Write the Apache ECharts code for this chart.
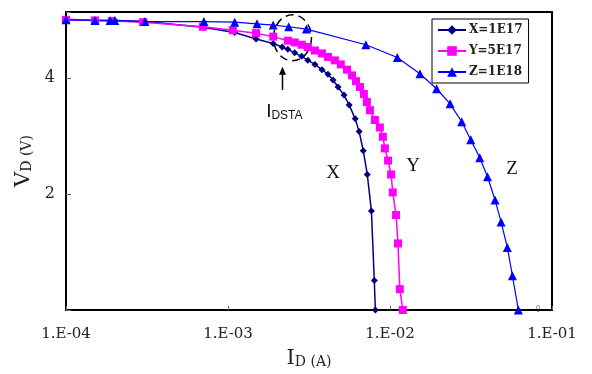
<!DOCTYPE html>
<html>
<head>
<meta charset="utf-8">
<script src="https://cdn.jsdelivr.net/npm/echarts@6/dist/echarts.min.js"></script>
<style>
  html, body { margin: 0; padding: 0; background: #fff; }
  #chart { width: 592px; height: 374px; }
</style>
</head>
<body>
<div id="chart"></div>
<script>
const seriesNames = ["X=1E17", "Y=5E17", "Z=1E18"];
const xTickLabels = ["1.E-04", "1.E-03", "1.E-02", "1.E-01"];
const yTickLabels = ["2", "4"];

// I_D (A) and V_D (V)
const idX = [1.0e-4, 1.51e-4, 1.92e-4, 2.0e-4, 3.07e-4, 7.0e-4, 1.1e-3, 1.49e-3, 1.9e-3, 2.16e-3, 2.34e-3, 2.58e-3, 2.85e-3, 3.11e-3, 3.44e-3, 3.8e-3, 4.14e-3, 4.45e-3, 4.78e-3, 5.2e-3, 5.6e-3, 6.1e-3, 6.45e-3, 6.84e-3, 7.24e-3, 7.68e-3, 8.0e-3, 8.12e-3];
const vdX = [5.02, 5.0, 5.0, 5.0, 4.98, 4.88, 4.79, 4.68, 4.6, 4.54, 4.5, 4.44, 4.38, 4.31, 4.24, 4.15, 4.07, 3.97, 3.85, 3.71, 3.54, 3.3, 3.08, 2.75, 2.34, 1.71, 0.51, 0.0];

const idY = [1.0e-4, 1.51e-4, 1.92e-4, 2.99e-4, 7.0e-4, 1.07e-3, 1.49e-3, 1.9e-3, 2.34e-3, 2.58e-3, 2.85e-3, 3.11e-3, 3.44e-3, 3.8e-3, 4.14e-3, 4.57e-3, 4.97e-3, 5.43e-3, 5.83e-3, 6.17e-3, 6.53e-3, 6.9e-3, 7.2e-3, 7.52e-3, 8.07e-3, 8.66e-3, 9.04e-3, 9.3e-3, 9.73e-3, 1.016e-2, 1.04e-2, 1.09e-2, 1.12e-2, 1.15e-2, 1.2e-2];
const vdY = [5.01, 5.0, 4.99, 4.97, 4.89, 4.83, 4.78, 4.72, 4.65, 4.62, 4.58, 4.54, 4.48, 4.43, 4.37, 4.31, 4.24, 4.15, 4.05, 3.95, 3.85, 3.73, 3.59, 3.45, 3.28, 3.15, 2.99, 2.79, 2.58, 2.34, 2.03, 1.64, 1.15, 0.36, 0.0];

const idZ = [1.0e-4, 1.51e-4, 1.87e-4, 2.0e-4, 3.07e-4, 7.1e-4, 1.1e-3, 1.51e-3, 1.9e-3, 2.37e-3, 3.05e-3, 7.1e-3, 1.11e-2, 1.53e-2, 1.94e-2, 2.35e-2, 2.77e-2, 3.15e-2, 3.58e-2, 4.0e-2, 4.45e-2, 4.85e-2, 5.3e-2, 5.7e-2, 6.2e-2];
const vdZ = [5.01, 5.0, 5.0, 5.0, 4.98, 4.98, 4.97, 4.94, 4.92, 4.89, 4.85, 4.58, 4.36, 4.08, 3.82, 3.56, 3.25, 2.94, 2.63, 2.3, 1.9, 1.52, 1.08, 0.59, 0.0];

const pairs = (xs, ys) => xs.map((x, i) => [x, ys[i]]);

const serif = "DejaVu Serif";
const textColor = "#222";

const chart = echarts.init(document.getElementById("chart"));

const option = {
  animation: false,
  grid: {
    left: 66,
    right: 40,
    top: 12,
    bottom: 61,
    show: true,
    borderColor: "#000",
    borderWidth: 2,
  },
  legend: {
    orient: "vertical",
    left: 432,
    top: 19,
    padding: [5, 6, 5, 5],
    itemGap: 9,
    itemWidth: 28,
    itemHeight: 12,
    borderColor: "#000",
    borderWidth: 1,
    backgroundColor: "#fff",
    textStyle: {
      fontFamily: serif,
      fontWeight: "bold",
      fontSize: 12,
      color: textColor,
      padding: [0, 0, 0, -2],
    },
    data: seriesNames,
  },
  xAxis: {
    type: "log",
    logBase: 10,
    min: 1e-4,
    max: 1e-1,
    splitLine: { show: false },
    axisLine: { lineStyle: { color: "#000", width: 2 } },
    axisTick: { inside: true, length: 4, lineStyle: { color: "#666" } },
    minorTick: { show: false },
    axisLabel: {
      margin: 17,
      fontFamily: serif,
      fontSize: 15,
      color: textColor,
      formatter: (v) => xTickLabels[Math.round(Math.log10(v)) + 4] || "",
    },
    name: "{a|I}{b|D (A)}",
    nameLocation: "middle",
    nameGap: 38,
    nameTextStyle: {
      rich: {
        a: { fontFamily: serif, fontSize: 21, color: textColor, verticalAlign: "bottom" },
        b: { fontFamily: serif, fontSize: 14, color: textColor, verticalAlign: "bottom" },
      },
    },
  },
  yAxis: {
    type: "value",
    min: 0,
    max: 5.145,
    interval: 2,
    splitLine: { show: false },
    axisLine: { show: true, lineStyle: { color: "#000", width: 2 } },
    axisTick: { show: true, inside: true, length: 5, lineStyle: { color: "#666" } },
    axisLabel: {
      margin: 11,
      fontFamily: serif,
      fontSize: 16,
      color: textColor,
      formatter: (v) => (yTickLabels.includes(String(v)) ? String(v) : ""),
    },
    name: "{a|V}{b|D (V)}",
    nameLocation: "middle",
    nameRotate: 90,
    nameGap: 25,
    nameTextStyle: {
      rich: {
        a: { fontFamily: serif, fontSize: 21, color: textColor, verticalAlign: "bottom" },
        b: { fontFamily: serif, fontSize: 14, color: textColor, verticalAlign: "bottom" },
      },
    },
  },
  series: [
    {
      name: seriesNames[0],
      type: "line",
      symbol: "diamond",
      symbolSize: 7,
      color: "#000080",
      lineStyle: { width: 1.5 },
      data: pairs(idX, vdX),
    },
    {
      name: seriesNames[1],
      type: "line",
      symbol: "rect",
      symbolSize: 8,
      color: "#ff00ff",
      lineStyle: { width: 1.5 },
      data: pairs(idY, vdY),
    },
    {
      name: seriesNames[2],
      type: "line",
      symbol: "triangle",
      symbolSize: 9,
      color: "#0000ff",
      lineStyle: { width: 1.2 },
      data: pairs(idZ, vdZ),
    },
  ],
};

chart.setOption(option);

// annotations placed in data space
const px = (x, y) => chart.convertToPixel({ gridIndex: 0 }, [x, y]);
const ell = px(2.5e-3, 4.7);
const arrTop = px(2.17e-3, 4.2);
const arrBot = px(2.17e-3, 3.8);
const idsta = px(1.72e-3, 3.42);
const labX = px(4.45e-3, 2.36);
const labY = px(1.39e-2, 2.48);
const labZ = px(5.66e-2, 2.44);
const zeroMark = px(0.082, 0);

const curveLabel = (p, s) => ({
  type: "text",
  x: p[0],
  y: p[1],
  style: { text: s, font: "19px 'Liberation Serif'", fill: "#111", align: "center", verticalAlign: "middle" },
});

chart.setOption({
  graphic: [
    {
      type: "ellipse",
      shape: { cx: ell[0], cy: ell[1], rx: 19, ry: 23 },
      style: { fill: "none", stroke: "#000", lineWidth: 1.5, lineDash: [8, 5] },
    },
    {
      type: "line",
      shape: { x1: arrTop[0], y1: arrTop[1] + 6, x2: arrBot[0], y2: arrBot[1] },
      style: { stroke: "#000", lineWidth: 1.5 },
    },
    {
      type: "polygon",
      shape: { points: [[arrTop[0], arrTop[1]], [arrTop[0] - 3.5, arrTop[1] + 8], [arrTop[0] + 3.5, arrTop[1] + 8]] },
      style: { fill: "#000" },
    },
    {
      type: "text",
      x: idsta[0],
      y: idsta[1],
      style: {
        text: "{a|I}{b|DSTA}",
        align: "left",
        verticalAlign: "middle",
        rich: {
          a: { font: "19px 'Liberation Sans'", fill: "#111", verticalAlign: "bottom" },
          b: { font: "12px 'Liberation Sans'", fill: "#111", verticalAlign: "bottom" },
        },
      },
    },
    curveLabel(labX, "X"),
    curveLabel(labY, "Y"),
    curveLabel(labZ, "Z"),
    {
      type: "text",
      x: zeroMark[0],
      y: zeroMark[1],
      style: { text: "0", font: "8px 'DejaVu Sans'", fill: "#888", align: "center", verticalAlign: "middle" },
    },
  ],
});
</script>
</body>
</html>
